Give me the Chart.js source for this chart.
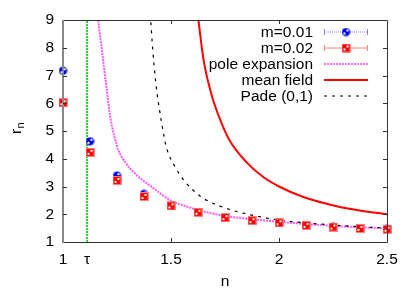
<!DOCTYPE html>
<html><head><meta charset="utf-8">
<script src="https://cdn.jsdelivr.net/npm/chart.js@4/dist/chart.umd.min.js"></script>
<style>html,body{margin:0;padding:0;background:#fff;}canvas{display:block;}</style>
</head><body>
<canvas id="c" width="415" height="291"></canvas>
<script>
const nValues = [1, 1.125, 1.25, 1.375, 1.5, 1.625, 1.75, 1.875, 2, 2.125, 2.25, 2.375, 2.5];
const m001 = [7.17, 4.63, 3.39, 2.73, 2.31, 2.08, 1.89, 1.78, 1.70, 1.61, 1.55, 1.50, 1.47];
const m002 = [6.02, 4.23, 3.22, 2.64, 2.30, 2.07, 1.88, 1.77, 1.69, 1.60, 1.54, 1.49, 1.46];

const poleN = [1.160, 1.163, 1.179, 1.198, 1.218, 1.238, 1.256, 1.29, 1.333, 1.41, 1.5, 1.565, 1.627, 1.75, 1.875, 2.0, 2.125, 2.25, 2.375, 2.5];
const poleR = [9.2, 9.0, 7.98, 6.78, 5.55, 4.80, 4.32, 3.85, 3.47, 2.99, 2.49, 2.30, 2.15, 1.94, 1.82, 1.73, 1.65, 1.58, 1.53, 1.49];

const mfN = [1.624, 1.627, 1.65, 1.688, 1.735, 1.773, 1.85, 1.927, 2.0, 2.113, 2.267, 2.38, 2.5];
const mfR = [9.2, 9.0, 7.6, 6.3, 5.27, 4.64, 3.87, 3.34, 3.0, 2.62, 2.29, 2.13, 2.0];

const padeN = [1.404, 1.406, 1.415, 1.429, 1.457, 1.480, 1.519, 1.565, 1.611, 1.650, 1.765, 1.874, 2.0, 2.125, 2.25, 2.375, 2.5];
const padeR = [9.2, 9.0, 7.98, 6.78, 5.28, 4.38, 3.71, 3.17, 2.81, 2.57, 2.19, 1.97, 1.79, 1.69, 1.61, 1.55, 1.50];

const tau = 1.111;
const xTicks = [1, tau, 1.5, 2, 2.5];
const yTicks = [1, 2, 3, 4, 5, 6, 7, 8, 9];
const legendLabels = ['m=0.01', 'm=0.02', 'pole expansion', 'mean field', 'Pade (0,1)'];

const FONT = '"Liberation Sans", Arial, sans-serif';

function makeBlue() {
  const c = document.createElement('canvas'); c.width = 9; c.height = 9;
  const g = c.getContext('2d');
  g.fillStyle = '#0000ee'; g.beginPath(); g.arc(4.5, 4.5, 4, 0, Math.PI * 2); g.fill();
  g.fillStyle = '#ffffff'; g.fillRect(5, 2, 2, 2); g.fillRect(2, 5, 2, 2);
  return c;
}
function makeRed() {
  const c = document.createElement('canvas'); c.width = 9; c.height = 9;
  const g = c.getContext('2d');
  g.fillStyle = '#ff8080'; g.fillRect(0, 0, 9, 9);
  g.fillStyle = '#ff0000'; g.fillRect(1, 1, 7, 7);
  g.fillStyle = '#ffffff'; g.fillRect(5, 2, 2, 2); g.fillRect(2, 5, 2, 2);
  return c;
}
const blueImg = makeBlue();
const redImg = makeRed();

const zip = (xs, ys) => xs.map((x, i) => ({x: x, y: ys[i]}));

const framePlugin = {
  id: 'frame',
  afterDraw(chart) {
    const ctx = chart.ctx;
    const a = chart.chartArea;
    const xs = chart.scales.x, ys = chart.scales.y;
    ctx.save();
    // frame
    ctx.strokeStyle = '#333';
    ctx.lineWidth = 1;
    ctx.beginPath();
    ctx.moveTo(a.left, a.top + 0.5); ctx.lineTo(a.right + 0.5, a.top + 0.5);
    ctx.lineTo(a.right + 0.5, a.bottom + 0.5); ctx.lineTo(a.left, a.bottom + 0.5);
    ctx.stroke();
    ctx.strokeStyle = '#888'; ctx.lineWidth = 2;
    ctx.beginPath(); ctx.moveTo(a.left, a.top); ctx.lineTo(a.left, a.bottom + 1); ctx.stroke();
    // ticks
    ctx.strokeStyle = '#333'; ctx.lineWidth = 1;
    ctx.beginPath();
    yTicks.slice(1, -1).forEach(v => {
      const y = Math.round(ys.getPixelForValue(v)) + 0.5;
      ctx.moveTo(a.left, y); ctx.lineTo(a.left + 4, y);
      ctx.moveTo(a.right, y); ctx.lineTo(a.right - 4, y);
    });
    [1.5, 2].forEach(v => {
      const x = Math.round(xs.getPixelForValue(v)) + 0.5;
      ctx.moveTo(x, a.bottom); ctx.lineTo(x, a.bottom - 4);
      ctx.moveTo(x, a.top); ctx.lineTo(x, a.top + 4);
    });
    ctx.stroke();
    // axis titles
    ctx.fillStyle = '#000';
    ctx.font = '15.5px ' + FONT;
    ctx.textAlign = 'center'; ctx.textBaseline = 'middle';
    ctx.fillText('n', (a.left + a.right) / 2, 282);
    ctx.save();
    ctx.translate(17, 128);
    ctx.rotate(-Math.PI / 2);
    ctx.textAlign = 'left';
    ctx.fillText('r', -6, 0);
    ctx.font = '11px ' + FONT;
    ctx.fillText('n', -0.5, 4);
    ctx.restore();
    // legend
    const rows = [31.5, 47.5, 63.5, 79.5, 95.5];
    ctx.font = '15.5px ' + FONT;
    ctx.textAlign = 'right'; ctx.textBaseline = 'middle';
    legendLabels.forEach((t, i) => ctx.fillText(t, 313, rows[i] + 1));
    const x0 = 324, x1 = 368, xm = 346;
    // m=0.01
    ctx.strokeStyle = '#8080ff'; ctx.lineWidth = 1; ctx.setLineDash([1, 1]);
    ctx.beginPath(); ctx.moveTo(x0, rows[0] + 0.5); ctx.lineTo(x1, rows[0] + 0.5); ctx.stroke();
    ctx.setLineDash([]);
    ctx.beginPath();
    ctx.moveTo(x0 + 0.5, rows[0] - 2.5); ctx.lineTo(x0 + 0.5, rows[0] + 3.5);
    ctx.moveTo(x1 - 0.5, rows[0] - 2.5); ctx.lineTo(x1 - 0.5, rows[0] + 3.5);
    ctx.stroke();
    ctx.drawImage(blueImg, xm - 4.5, rows[0] - 4);
    // m=0.02
    ctx.strokeStyle = '#ff8080';
    ctx.beginPath(); ctx.moveTo(x0, rows[1] + 0.5); ctx.lineTo(x1, rows[1] + 0.5);
    ctx.moveTo(x0 + 0.5, rows[1] - 2.5); ctx.lineTo(x0 + 0.5, rows[1] + 3.5);
    ctx.moveTo(x1 - 0.5, rows[1] - 2.5); ctx.lineTo(x1 - 0.5, rows[1] + 3.5);
    ctx.stroke();
    ctx.drawImage(redImg, xm - 4.5, rows[1] - 4);
    // pole
    ctx.strokeStyle = '#ff44ff'; ctx.lineWidth = 1.5; ctx.setLineDash([2, 1]);
    ctx.beginPath(); ctx.moveTo(x0, rows[2] + 0.5); ctx.lineTo(x1, rows[2] + 0.5); ctx.stroke();
    // mean field
    ctx.setLineDash([]);
    ctx.strokeStyle = '#ff0000'; ctx.lineWidth = 2;
    ctx.beginPath(); ctx.moveTo(x0, rows[3] + 0.5); ctx.lineTo(x1, rows[3] + 0.5); ctx.stroke();
    // pade
    ctx.strokeStyle = '#000'; ctx.lineWidth = 1; ctx.setLineDash([3, 5]);
    ctx.beginPath(); ctx.moveTo(x0, rows[4] + 0.5); ctx.lineTo(x1, rows[4] + 0.5); ctx.stroke();
    ctx.restore();
  }
};

new Chart(document.getElementById('c'), {
  type: 'scatter',
  data: {
    datasets: [
      {label: 'm=0.02', data: zip(nValues, m002), pointStyle: redImg, pointRadius: 4.5, showLine: false, clip: false, order: 0},
      {label: 'm=0.01', data: zip(nValues, m001), pointStyle: blueImg, pointRadius: 4.5, showLine: false, clip: false, order: 1},
      {label: 'tau', data: [{x: tau, y: 1}, {x: tau, y: 9}], showLine: true, pointRadius: 0, borderColor: '#22dd22', borderWidth: 2, borderDash: [2, 1], order: 5},
      {label: 'pole expansion', data: zip(poleN, poleR), showLine: true, pointRadius: 0, borderColor: '#ff55ff', borderWidth: 2, borderDash: [2, 1], cubicInterpolationMode: 'monotone', order: 4},
      {label: 'mean field', data: zip(mfN, mfR), showLine: true, pointRadius: 0, borderColor: '#ff0000', borderWidth: 2, cubicInterpolationMode: 'monotone', order: 3},
      {label: 'Pade (0,1)', data: zip(padeN, padeR), showLine: true, pointRadius: 0, borderColor: '#000000', borderWidth: 1.2, borderDash: [3, 5], cubicInterpolationMode: 'monotone', order: 2}
    ]
  },
  options: {
    responsive: false,
    devicePixelRatio: 1,
    animation: false,
    layout: {padding: {left: 0, right: 28, top: 20, bottom: 0}},
    plugins: {legend: {display: false}, tooltip: {enabled: false}},
    scales: {
      x: {
        type: 'linear', min: 1, max: 2.5,
        grid: {display: false, drawTicks: false},
        border: {display: false},
        afterBuildTicks: s => { s.ticks = xTicks.map(v => ({value: v})); },
        afterFit: s => { s.height = 49; },
        ticks: {
          autoSkip: false, maxRotation: 0, padding: 8, color: '#000',
          font: {family: FONT, size: 15.5},
          callback: v => (Math.abs(v - tau) < 1e-6 ? 'τ' : String(v))
        }
      },
      y: {
        type: 'linear', min: 1, max: 9,
        grid: {display: false, drawTicks: false},
        border: {display: false},
        afterBuildTicks: s => { s.ticks = yTicks.map(v => ({value: v})); },
        afterFit: s => { s.width = 63; },
        ticks: {padding: 9, color: '#000', font: {family: FONT, size: 15.5}}
      }
    }
  },
  plugins: [framePlugin]
});
</script>
</body></html>
